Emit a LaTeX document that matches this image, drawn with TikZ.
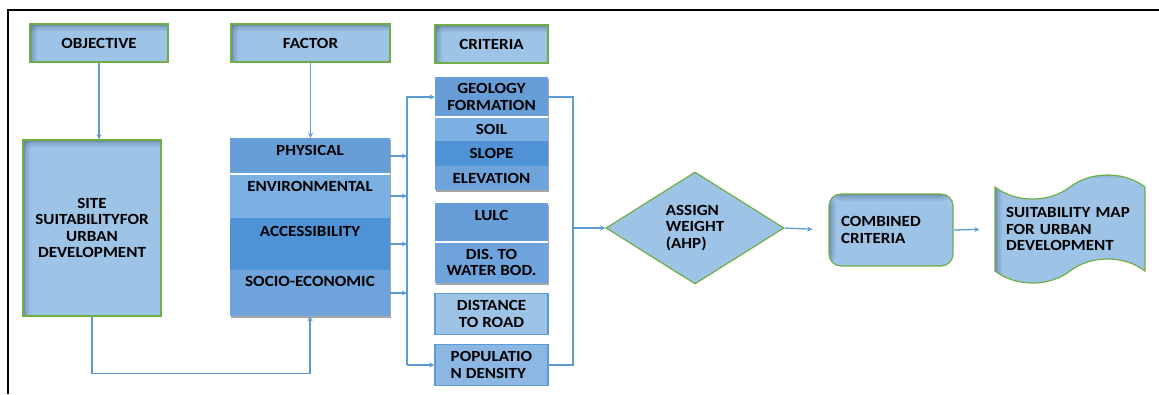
\documentclass[tikz,border=0pt]{standalone}
\usepackage{fontspec}
\setmainfont{Carlito}[FakeStretch=1.1]
\usepackage{xcolor}
\usepackage{tikz}
\usetikzlibrary{shapes.geometric,shapes.symbols,shadows,positioning}

\definecolor{boxfill}{HTML}{9DC3E6}
\definecolor{boxline}{HTML}{70AD47}
\definecolor{arrowc}{HTML}{5B9BD5}
\definecolor{inshade}{HTML}{3E5E80}
\definecolor{secA}{RGB}{104,158,216}
\definecolor{secB}{RGB}{125,176,226}
\definecolor{secC}{RGB}{79,146,214}
\definecolor{secD}{RGB}{110,164,219}
\definecolor{popfill}{RGB}{141,183,227}

\tikzset{
 inshadow/.style={path picture={
   \foreach \w/\o in {7/0.10,5/0.12,3/0.16,1.5/0.2} {
    \fill[inshade, opacity=\o] (path picture bounding box.south west) rectangle ([xshift=\w pt]path picture bounding box.north west);
    \fill[inshade, opacity=\o] (path picture bounding box.north west) rectangle ([yshift=-\w pt]path picture bounding box.north east);
   }}},
 greenbox/.style={draw=boxline, line width=1.2pt, fill=boxfill, inshadow, inner sep=0pt, align=center},
 stackbg/.style={fill=secD, inner sep=0pt, drop shadow={shadow xshift=1pt, shadow yshift=-2pt, opacity=0.35, fill=black}},
 sec/.style={fill=#1, inner sep=0pt, align=center},
 sepline/.style={white, line width=1.5pt},
 bluebox/.style={draw=arrowc, line width=1.2pt, fill=#1, inner sep=0pt, minimum width=113, minimum height=41},
 conn/.style={arrowc, line width=1.3pt},
}

\begin{document}
\begin{tikzpicture}[x=1pt, y=-1pt, >=stealth, font=\fontsize{15.5}{16.5}\selectfont\bfseries]
 \useasboundingbox (0,0) rectangle (1159,394);
 \draw[line width=2pt] (8,394) -- (8,10) -- (1159,10);

 \node[greenbox, minimum width=138, minimum height=38] (OBJ) at (99,43) {OBJECTIVE};
 \node[greenbox, minimum width=159, minimum height=38] (FAC) at (310.5,43) {FACTOR};
 \node[greenbox, minimum width=113, minimum height=38] (CRIT) at (491.5,44) {CRITERIA};
 \node[greenbox, minimum width=138, minimum height=176] (SITE) at (92,228) {SITE\\SUITABILITYFOR\\URBAN\\DEVELOPMENT};

 \node[stackbg, minimum width=160, minimum height=178] (FACBG) at (310,227) {};
 \node[sec=secA, minimum width=160, minimum height=36] (PHYS) at (310,156) {};
 \node[sec=secB, minimum width=160, minimum height=44] (ENV) at (310,196) {};
 \node[sec=secC, minimum width=160, minimum height=52] (ACC) at (310,244) {};
 \node[sec=secD, minimum width=160, minimum height=46] (SOC) at (310,293) {};
 \draw[sepline] (PHYS.south west) -- (PHYS.south east);
 \node (PHYSt) at ([yshift=-13pt]PHYS.north) {PHYSICAL};
 \node (ENVt) at ([yshift=-13pt]ENV.north) {ENVIRONMENTAL};
 \node (ACCt) at ([yshift=-14pt]ACC.north) {ACCESSIBILITY};
 \node (SOCt) at ([yshift=-12pt]SOC.north) {SOCIO-ECONOMIC};

 \node[stackbg, minimum width=113, minimum height=113] (CR1) at (491.5,133.5) {};
 \node[sec=secA, minimum width=113, minimum height=40] (GEO) at (491.5,97) {GEOLOGY\\FORMATION};
 \node[sec=secB, minimum width=113, minimum height=24] (SOIL) at (491.5,129) {SOIL};
 \node[sec=secC, minimum width=113, minimum height=25] (SLOPE) at (491.5,153.5) {SLOPE};
 \node[sec=secD, minimum width=113, minimum height=24] (ELEV) at (491.5,178) {ELEVATION};
 \draw[sepline] (GEO.south west) -- (GEO.south east);

 \node[stackbg, minimum width=113, minimum height=80] (CR2) at (491.5,243) {};
 \node[sec=secA, minimum width=113, minimum height=39] (LULC) at (491.5,222.5) {};
 \node[sec=secD, minimum width=113, minimum height=41] (DWB) at (491.5,262.5) {DIS. TO\\WATER BOD.};
 \draw[sepline] (LULC.south west) -- (LULC.south east);
 \node (LULCt) at ([yshift=-13pt]LULC.north) {LULC};

 \node[bluebox=boxfill, align=center] (ROAD) at (491.5,314) {DISTANCE\\TO ROAD};
 \node[bluebox=popfill, align=left] (POP) at (491.5,365) {POPULATIO\\N DENSITY};

 \node[diamond, draw=boxline, line width=1.2pt, fill=boxfill, aspect=1.59, minimum width=178, minimum height=112, inner sep=0pt, align=left] (AHP) at (695,228) {ASSIGN\\WEIGHT\\(AHP)};
 \node[greenbox, rounded corners=12pt, minimum width=124, minimum height=72, text width=100, align=left] (COMB) at (891,230) {COMBINED\\CRITERIA};
 \node[tape, draw=boxline, line width=1.2pt, fill=boxfill, inshadow, tape bend top=in and out, tape bend bottom=in and out, tape bend height=24pt, minimum width=150, minimum height=108, text width=128, align=left] (SMAP) at (1070,229) {SUITABILITY MAP\\FOR URBAN\\DEVELOPMENT};

 \coordinate (BUSL) at (407,0);
 \coordinate (BUSR) at (573,0);
 \draw[conn,->] (OBJ) -- (OBJ |- SITE.north);
 \draw[conn,->] (FAC) -- (FAC |- FACBG.north);
 \draw[conn,->] (SITE.south) -- ++(0,57) -| (FACBG.south);
 \foreach \s in {PHYS,ENV,ACC,SOC}
  \draw[conn,->] (\s.east) -- (\s.east -| BUSL);
 \draw[conn,->] (BUSL |- POP.west) -- (BUSL |- GEO.west) -- (GEO.west);
 \draw[conn,->] (BUSL |- POP.west) -- (POP.west);
 \draw[conn] (GEO.east) -- (BUSR |- GEO.east) -- (BUSR |- POP.east) -- (POP.east);
 \draw[conn,->] (BUSR |- AHP.west) -- (AHP.west);
 \draw[conn,->, shorten >=16pt] (AHP.east) -- (COMB.west);
 \draw[conn,->, shorten >=15pt] (COMB.east) -- (SMAP.west);
\end{tikzpicture}
\end{document}
